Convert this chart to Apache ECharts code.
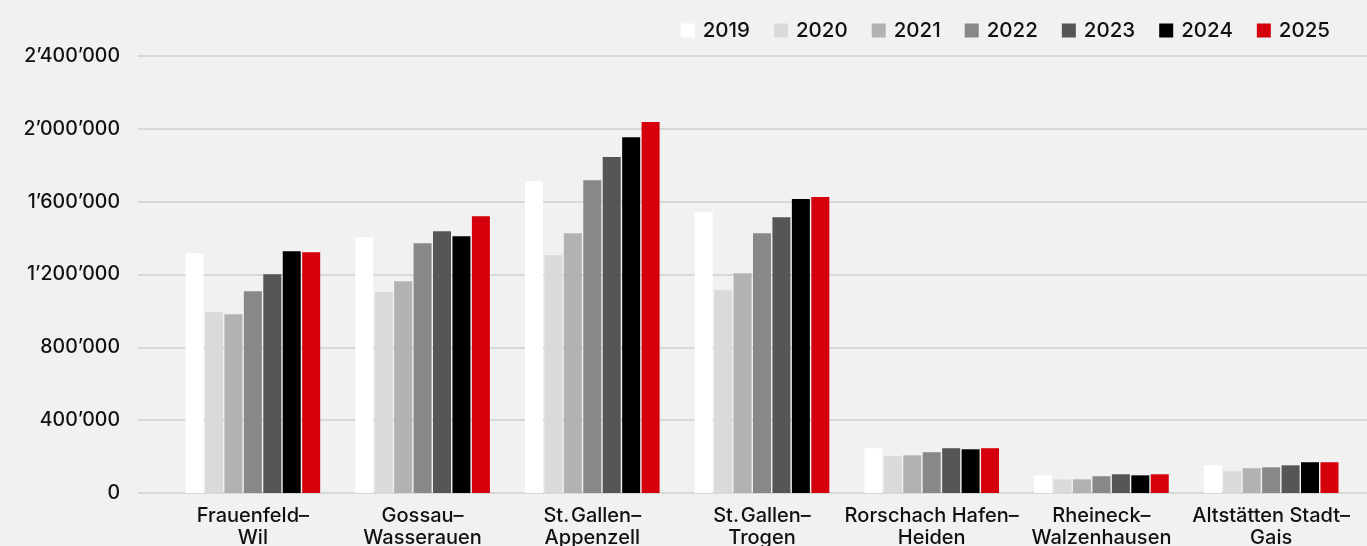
<!DOCTYPE html>
<html><head><meta charset="utf-8">
<style>html,body{margin:0;padding:0;background:#f1f2f1;}#c{width:1367px;height:546px;}</style>
<script src="https://cdn.jsdelivr.net/npm/echarts@6/dist/echarts.min.js"></script>
</head><body><div id="c"></div>
<script>
const categories = ['Frauenfeld–\nWil','Gossau–\nWasserauen','St.\u200AGallen–\nAppenzell','St.\u200AGallen–\nTrogen','Rorschach Hafen–\nHeiden','Rheineck–\nWalzenhausen','Altstätten Stadt–\nGais'];
const years = ['2019','2020','2021','2022','2023','2024','2025'];
const colors = ['#ffffff','#d9dad9','#b1b3b3','#878887','#555756','#000000','#d5000c'];
const v2019 = [1317000,1405000,1712000,1542000,245000,97000,152000];
const v2020 = [993000,1103000,1306000,1114000,202000,75000,119000];
const v2021 = [982000,1163000,1427000,1207000,207000,75000,136000];
const v2022 = [1108000,1372000,1718000,1427000,224000,92000,141000];
const v2023 = [1202000,1438000,1845000,1515000,246000,103000,152000];
const v2024 = [1328000,1410000,1954000,1614000,240000,97000,169000];
const v2025 = [1322000,1520000,2037000,1625000,246000,103000,169000];
const seriesValues = [v2019,v2020,v2021,v2022,v2023,v2024,v2025];
const yMin = 0, yMax = 2400000, yInterval = 400000;
const FONT = 'Inter';
const fmt = v => String(v).replace(/\B(?=(\d{3})+(?!\d))/g, '’');

const chart = echarts.init(document.getElementById('c'), null, {renderer:'canvas'});
chart.setOption({
  backgroundColor:'#f0f1f0',
  animation:false,
  textStyle:{fontFamily:FONT},
  legend:{
    top:15, right:32, itemWidth:14, itemHeight:14, itemGap:24,
    icon:'rect',
    textStyle:{fontFamily:FONT, fontSize:20.5, color:'#111', fontWeight:500, padding:[0,0,0,3]},
    data: years
  },
  grid:[
    {left:138, right:0, top:56, bottom:53, containLabel:false, outerBoundsMode:'none'},
    {left:168, right:11, top:56, bottom:53, containLabel:false, outerBoundsMode:'none'}
  ],
  xAxis:[
    {gridIndex:0, type:'value', show:false, min:0, max:1},
    {gridIndex:1, type:'category', data:categories,
     axisLine:{show:false}, axisTick:{show:false},
     axisLabel:{interval:0, margin:12, fontFamily:FONT, fontSize:20, color:'#111', fontWeight:500, lineHeight:22}}
  ],
  yAxis:[
    {gridIndex:0, type:'value', min:yMin, max:yMax, interval:yInterval,
     axisLine:{show:false}, axisTick:{show:false},
     splitLine:{lineStyle:{color:'#cfd0cf', width:1.5}},
     axisLabel:{margin:18, fontFamily:FONT, fontSize:19.5, color:'#111', fontWeight:500, formatter:fmt}},
    {gridIndex:1, type:'value', min:yMin, max:yMax, interval:yInterval, show:false, splitLine:{show:false}}
  ],
  series: years.map((y,i)=>({
    name:y, type:'bar', xAxisIndex:1, yAxisIndex:1,
    data:seriesValues[i], barWidth:18, barGap:'8%',
    itemStyle:{color:colors[i]}
  }))
});
</script></body></html>
